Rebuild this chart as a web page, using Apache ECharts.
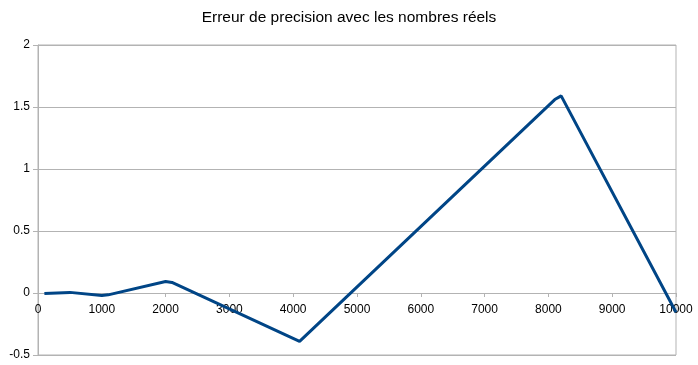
<!DOCTYPE html>
<html>
<head>
<meta charset="utf-8">
<script src="https://cdn.jsdelivr.net/npm/echarts@6/dist/echarts.min.js"></script>
<style>html,body{margin:0;padding:0;background:#fff;}#c{width:698px;height:365px;}</style>
</head>
<body>
<div id="c"></div>
<script>
var titleText = "Erreur de precision avec les nombres réels";
var xValues = [100, 500, 1000, 1100, 2000, 2100, 4100, 8100, 8200, 10000];
var yValues = [-0.005, 0.005, -0.02, -0.015, 0.093, 0.085, -0.39, 1.56, 1.59, -0.155];

var data = xValues.map(function (x, i) { return [x, yValues[i]]; });
var chart = echarts.init(document.getElementById('c'));
var font = 'Liberation Sans, Arial, sans-serif';
var plotTop = 45, plotBottom = 355;
var zeroOffset = (plotBottom - plotTop) * (0.5 / 2.5); // distance from bottom edge to y=0
chart.setOption({
  animation: false,
  backgroundColor: '#fff',
  title: {
    text: titleText, left: 'center', top: 5,
    textStyle: { fontFamily: font, fontSize: 15.5, fontWeight: 'normal', color: '#000' }
  },
  grid: { left: 38, right: 22, top: plotTop, bottom: 365 - plotBottom, outerBoundsMode: 'none', containLabel: false,
          show: true, borderColor: '#b3b3b3', borderWidth: 1, backgroundColor: 'transparent' },
  xAxis: [{
    type: 'value', min: 0, max: 10000, interval: 1000,
    axisLine: { onZero: true, lineStyle: { color: '#b3b3b3' } },
    axisTick: { show: true, length: 4, lineStyle: { color: '#b3b3b3' } },
    axisLabel: { show: false },
    splitLine: { show: false }
  }, {
    type: 'value', min: 0, max: 10000, interval: 1000, position: 'bottom', offset: -zeroOffset,
    axisLine: { show: false, onZero: false },
    axisTick: { show: false },
    axisLabel: { fontFamily: font, fontSize: 12, color: '#000', margin: 11,
                 formatter: function (v) { return String(v); } },
    splitLine: { show: false }
  }],
  yAxis: {
    type: 'value', min: -0.5, max: 2, interval: 0.5,
    axisLine: { show: true, lineStyle: { color: '#b3b3b3' } },
    axisTick: { show: true, length: 5, lineStyle: { color: '#b3b3b3' } },
    axisLabel: { fontFamily: font, fontSize: 12, color: '#000', margin: 8 },
    splitLine: { show: true, lineStyle: { color: '#b3b3b3' } }
  },
  series: [{
    type: 'line', data: data, showSymbol: false, symbol: 'none', xAxisIndex: 0,
    lineStyle: { color: '#004586', width: 3 }, itemStyle: { color: '#004586' }
  }]
});
</script>
</body>
</html>
